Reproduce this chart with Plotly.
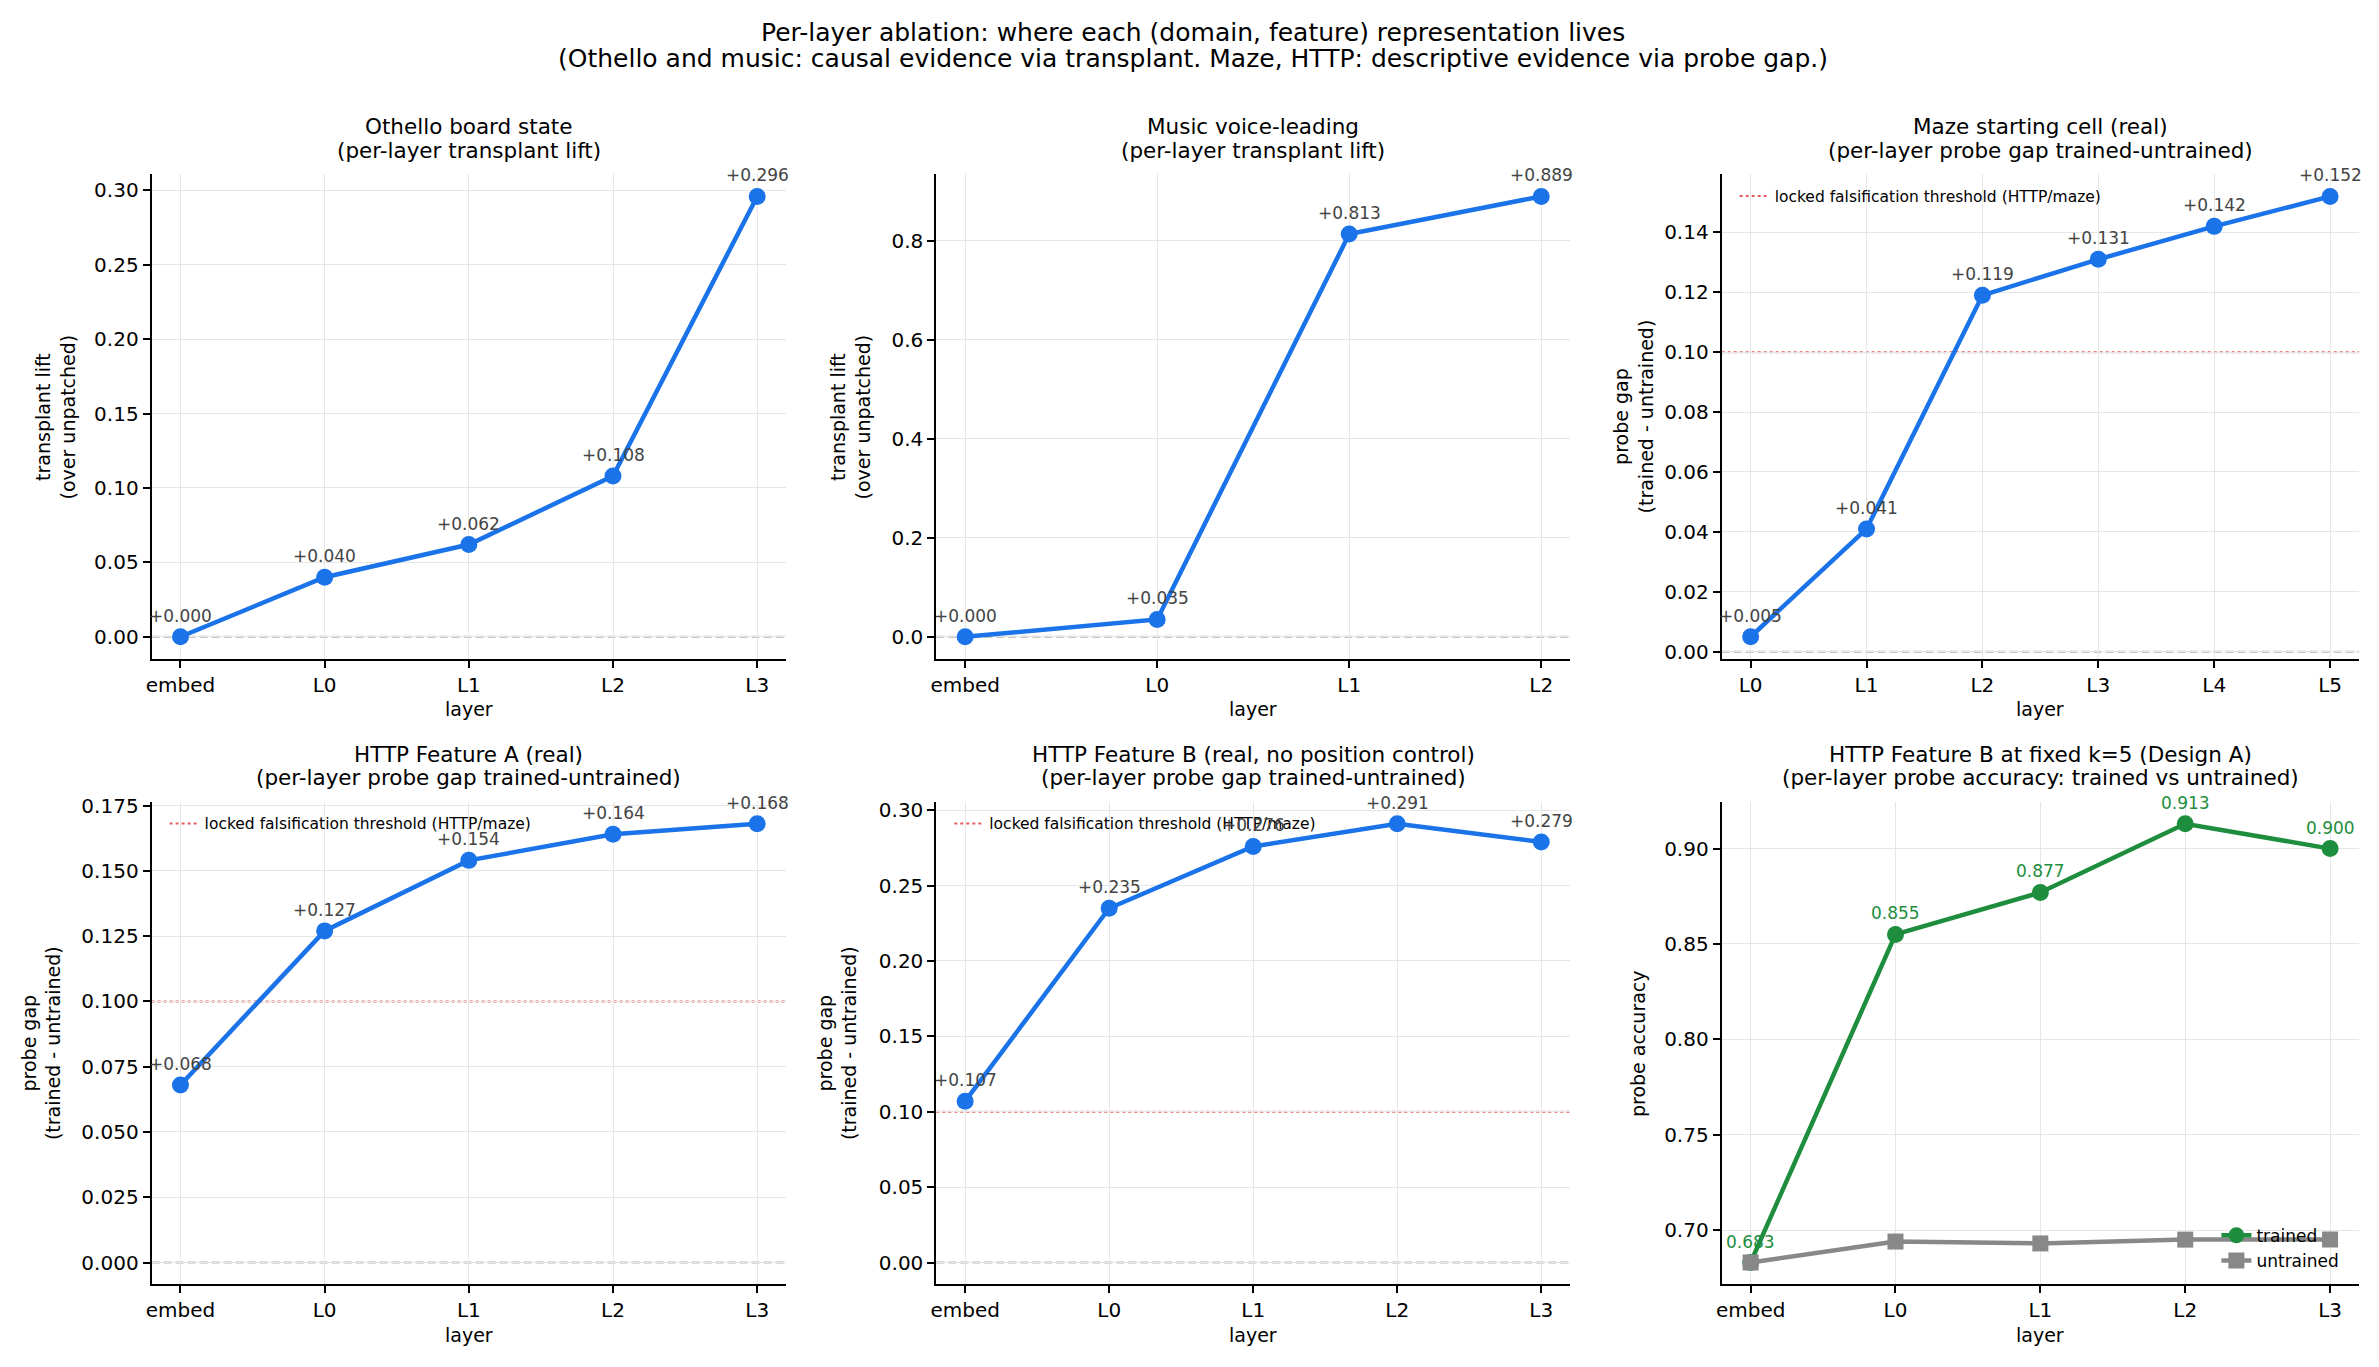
import plotly.graph_objects as go

W, H = 2379, 1367

# ---------------- data ----------------
othello_layers = ["embed", "L0", "L1", "L2", "L3"]
othello_lift = [0.000, 0.040, 0.062, 0.108, 0.296]

music_layers = ["embed", "L0", "L1", "L2"]
music_lift = [0.000, 0.035, 0.813, 0.889]

maze_layers = ["L0", "L1", "L2", "L3", "L4", "L5"]
maze_gap = [0.005, 0.041, 0.119, 0.131, 0.142, 0.152]

httpA_layers = ["embed", "L0", "L1", "L2", "L3"]
httpA_gap = [0.068, 0.127, 0.154, 0.164, 0.168]

httpB_layers = ["embed", "L0", "L1", "L2", "L3"]
httpB_gap = [0.107, 0.235, 0.276, 0.291, 0.279]

designA_layers = ["embed", "L0", "L1", "L2", "L3"]
designA_trained = [0.683, 0.855, 0.877, 0.913, 0.900]
designA_untrained = [0.683, 0.694, 0.693, 0.695, 0.695]

THRESHOLD = 0.10
THRESHOLD_LABEL = "locked falsification threshold (HTTP/maze)"

SUPTITLE_1 = "Per-layer ablation: where each (domain, feature) representation lives"
SUPTITLE_2 = "(Othello and music: causal evidence via transplant. Maze, HTTP: descriptive evidence via probe gap.)"

# ---------------- style ----------------
BLUE = "#1a73e8"
GREEN = "#1e8e3e"
GRAY = "#888888"
LABEL_GRAY = "#444444"
THR_COLOR = "rgba(214,39,40,0.75)"
FONT = "DejaVu Sans"

COLS = [(146.0, 782.0), (932.7, 1568.0), (1720.0, 2359.0)]
ROWS = [(168.0, 657.0), (801.5, 1288.7)]


def px_x(p):
    return p / W


def px_y(p):
    return 1 - p / H


def yrange(values, include_zero):
    lo, hi = min(values), max(values)
    if include_zero:
        lo, hi = min(lo, 0.0), max(hi, 0.0)
    pad = (hi - lo) * 0.05
    return [lo - pad, hi + pad]


panels = [
    dict(layers=othello_layers, series=[othello_lift], zero=True, thr=False,
         t1="Othello board state", t2="(per-layer transplant lift)",
         ylab="transplant lift<br>(over unpatched)", ylab_x=50,
         dtick=0.05, fmt=".2f", incl0=True, col=0, row=0),
    dict(layers=music_layers, series=[music_lift], zero=True, thr=False,
         t1="Music voice-leading", t2="(per-layer transplant lift)",
         ylab="transplant lift<br>(over unpatched)", ylab_x=847,
         dtick=0.2, fmt=".1f", incl0=True, col=1, row=0),
    dict(layers=maze_layers, series=[maze_gap], zero=True, thr=True,
         t1="Maze starting cell (real)", t2="(per-layer probe gap trained-untrained)",
         ylab="probe gap<br>(trained - untrained)", ylab_x=1632,
         dtick=0.02, fmt=".2f", incl0=False, col=2, row=0),
    dict(layers=httpA_layers, series=[httpA_gap], zero=True, thr=True,
         t1="HTTP Feature A (real)", t2="(per-layer probe gap trained-untrained)",
         ylab="probe gap<br>(trained - untrained)", ylab_x=35,
         dtick=0.025, fmt=".3f", incl0=True, col=0, row=1),
    dict(layers=httpB_layers, series=[httpB_gap], zero=True, thr=True,
         t1="HTTP Feature B (real, no position control)", t2="(per-layer probe gap trained-untrained)",
         ylab="probe gap<br>(trained - untrained)", ylab_x=833,
         dtick=0.05, fmt=".2f", incl0=True, col=1, row=1),
    dict(layers=designA_layers, series=[designA_trained, designA_untrained], zero=False, thr=False,
         t1="HTTP Feature B at fixed k=5 (Design A)", t2="(per-layer probe accuracy: trained vs untrained)",
         ylab="probe accuracy", ylab_x=1636,
         dtick=0.05, fmt=".2f", incl0=False, col=2, row=1),
]

fig = go.Figure()
annotations = []
shapes = []
layout_axes = {}
legend_names = {2: "legend", 3: "legend2", 4: "legend3"}

for i, p in enumerate(panels):
    n = i + 1
    xa = "x" if n == 1 else f"x{n}"
    ya = "y" if n == 1 else f"y{n}"
    x0p, x1p = COLS[p["col"]]
    y0p, y1p = ROWS[p["row"]]
    nl = len(p["layers"])
    xm = 0.05 * (nl - 1)
    allvals = [v for s in p["series"] for v in s]
    yr = yrange(allvals, p["incl0"])

    layout_axes[f"xaxis{'' if n == 1 else n}"] = dict(
        domain=[px_x(x0p), px_x(x1p)], anchor=ya, type="category",
        range=[-xm, nl - 1 + xm], showline=True, linecolor="black", linewidth=2,
        ticks="outside", ticklen=7, tickwidth=2, tickcolor="black",
        showgrid=True, gridcolor="#e6e6e6", gridwidth=1, zeroline=False,
        tickfont=dict(family=FONT, size=20, color="black"),
    )
    layout_axes[f"yaxis{'' if n == 1 else n}"] = dict(
        domain=[px_y(y1p), px_y(y0p)], anchor=xa, range=yr,
        showline=True, linecolor="black", linewidth=2,
        ticks="outside", ticklen=7, tickwidth=2, tickcolor="black",
        showgrid=True, gridcolor="#e6e6e6", gridwidth=1, zeroline=False,
        tick0=0, dtick=p["dtick"], tickformat=p["fmt"],
        tickfont=dict(family=FONT, size=20, color="black"),
    )

    # reference lines
    if p["zero"]:
        shapes.append(dict(type="line", xref=f"{xa} domain", yref=ya, x0=0, x1=1, y0=0, y1=0,
                           line=dict(color="#b3b3b3", width=2, dash="8px,4px"), layer="below"))
    if p["thr"]:
        shapes.append(dict(type="line", xref=f"{xa} domain", yref=ya, x0=0, x1=1,
                           y0=THRESHOLD, y1=THRESHOLD,
                           line=dict(color=THR_COLOR, width=2, dash="dot"), layer="below"))
        lg = legend_names[i]
        fig.add_trace(go.Scatter(x=[None], y=[None], mode="lines", xaxis=xa, yaxis=ya,
                                 name=THRESHOLD_LABEL, legend=lg, showlegend=True,
                                 line=dict(color=THR_COLOR, width=2, dash="dot")))
        layout_axes[lg] = dict(x=px_x(x0p + 13), y=px_y(y0p + 5), xanchor="left", yanchor="top",
                               bgcolor="rgba(0,0,0,0)", borderwidth=0, itemwidth=30,
                               font=dict(family=FONT, size=15.5, color="black"))

    if n < 6:
        fig.add_trace(go.Scatter(x=p["layers"], y=p["series"][0], mode="lines+markers",
                                 xaxis=xa, yaxis=ya, showlegend=False,
                                 line=dict(color=BLUE, width=4.5),
                                 marker=dict(color=BLUE, size=17, symbol="circle")))
        for lay, v in zip(p["layers"], p["series"][0]):
            annotations.append(dict(x=lay, y=v, xref=xa, yref=ya, text=f"+{v:.3f}", showarrow=False,
                                    yanchor="bottom", xanchor="center", yshift=9,
                                    font=dict(family=FONT, size=17, color=LABEL_GRAY)))
    else:
        fig.add_trace(go.Scatter(x=p["layers"], y=designA_trained, mode="lines+markers",
                                 xaxis=xa, yaxis=ya, name="trained", legend="legend4",
                                 line=dict(color=GREEN, width=4.5),
                                 marker=dict(color=GREEN, size=17, symbol="circle")))
        fig.add_trace(go.Scatter(x=p["layers"], y=designA_untrained, mode="lines+markers",
                                 xaxis=xa, yaxis=ya, name="untrained", legend="legend4",
                                 line=dict(color=GRAY, width=4.5),
                                 marker=dict(color=GRAY, size=16, symbol="square")))
        for lay, v in zip(p["layers"], designA_trained):
            annotations.append(dict(x=lay, y=v, xref=xa, yref=ya, text=f"{v:.3f}", showarrow=False,
                                    yanchor="bottom", xanchor="center", yshift=9,
                                    font=dict(family=FONT, size=17, color=GREEN)))
        layout_axes["legend4"] = dict(x=px_x(2216), y=px_y(1283), xanchor="left", yanchor="bottom",
                                      bgcolor="rgba(0,0,0,0)", borderwidth=0, itemwidth=30,
                                      font=dict(family=FONT, size=17, color="black"))

    # titles
    xc = px_x((x0p + x1p) / 2)
    title_y = [120, 144] if p["row"] == 0 else [754, 777]
    for txt, ty in zip([p["t1"], p["t2"]], title_y):
        annotations.append(dict(x=xc, y=px_y(ty), xref="paper", yref="paper", text=txt,
                                showarrow=False, xanchor="center", yanchor="middle",
                                font=dict(family=FONT, size=21.5, color="black")))
    # x label
    annotations.append(dict(x=xc, y=px_y(y1p + 51), xref="paper", yref="paper", text="layer",
                            showarrow=False, xanchor="center", yanchor="middle",
                            font=dict(family=FONT, size=19, color="black")))
    # y label
    annotations.append(dict(x=px_x(p["ylab_x"]), y=px_y((y0p + y1p) / 2), xref="paper", yref="paper",
                            text=p["ylab"], textangle=-90, showarrow=False,
                            xanchor="center", yanchor="middle",
                            font=dict(family=FONT, size=19, color="black")))

# suptitle
annotations.append(dict(x=0.5, y=px_y(25), xref="paper", yref="paper", text=SUPTITLE_1, showarrow=False,
                        xanchor="center", yanchor="middle", font=dict(family=FONT, size=25, color="black")))
annotations.append(dict(x=0.5, y=px_y(51), xref="paper", yref="paper", text=SUPTITLE_2, showarrow=False,
                        xanchor="center", yanchor="middle", font=dict(family=FONT, size=25, color="black")))

fig.update_layout(
    width=W, height=H, margin=dict(l=0, r=0, t=0, b=0, pad=0),
    paper_bgcolor="white", plot_bgcolor="white",
    font=dict(family=FONT, color="black"),
    annotations=annotations, shapes=shapes,
    **layout_axes,
)

fig.write_html("out.html")
